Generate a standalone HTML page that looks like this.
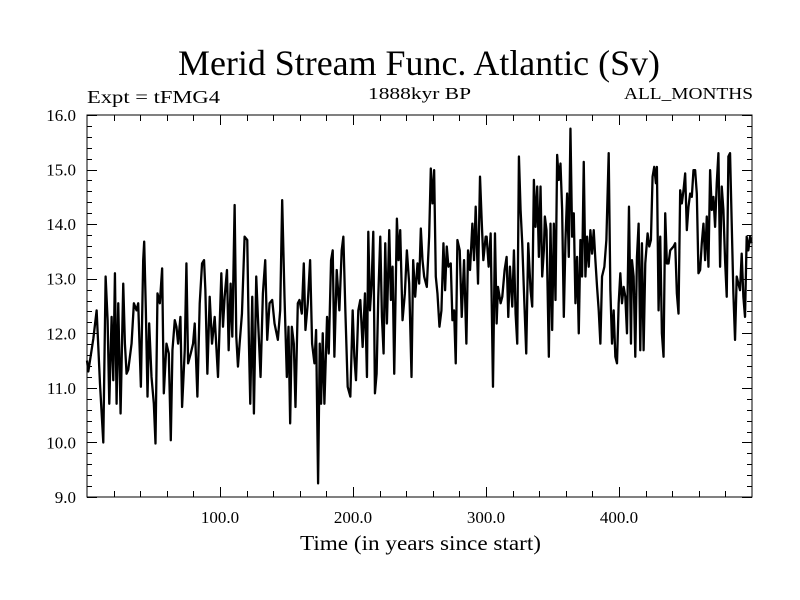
<!DOCTYPE html>
<html><head><meta charset="utf-8"><style>
html,body{margin:0;padding:0;background:#fff;}
svg{display:block;}
text{font-family:"Liberation Serif",serif;fill:#000;}
</style></head><body>
<svg id="chart" width="800" height="600" viewBox="0 0 800 600">
<text x="178" y="75" font-size="36" textLength="482" lengthAdjust="spacingAndGlyphs">Merid Stream Func. Atlantic (Sv)</text>
<text x="87" y="103" font-size="18" textLength="133" lengthAdjust="spacingAndGlyphs">Expt = tFMG4</text>
<text x="368" y="99" font-size="17" textLength="103" lengthAdjust="spacingAndGlyphs">1888kyr BP</text>
<text x="624" y="99" font-size="17" textLength="129" lengthAdjust="spacingAndGlyphs">ALL_MONTHS</text>
<text x="300" y="550" font-size="21" textLength="241" lengthAdjust="spacingAndGlyphs">Time (in years since start)</text>
<g id="axes"></g>
<path id="series" fill="none" stroke="#000" stroke-width="2.3" stroke-linejoin="round"></path>
<rect x="87" y="115" width="665" height="382" fill="none" stroke="#000" stroke-width="1"></rect>
</svg>
<script>
const years = [0,1,4.75,7.25,9.75,12.25,14,15.5,16.75,18.5,19.75,21,22.25,23.5,25.25,27.25,28.5,29.75,31,33.5,35.25,37.25,38.5,40.5,42.25,43,44.25,45.5,46.75,48.5,50.25,51.5,53,54.75,56.5,57.75,59.75,61.5,63,64.25,66,67.25,68.5,70.25,71.5,73.5,74.75,76,78,79.75,81,83,84.75,86.5,88,89,90.5,92.25,94,96,98.5,
101,102.25,103.5,105.25,106.5,108,109.25,111,112.25,113.5,114.75,116.5,118.5,120.5,121.75,122.75,124.25,125.5,127.25,128.5,130.5,132.25,134,135.5,137.25,139.25,141,143.5,145.25,146.75,148.5,150.25,151.5,152.75,154,155.5,156.75,158.5,159.75,161.5,163,164.25,166,167.75,169.25,171,172.25,173.75,175,176,177.25,178.5,180.5,181.75,183.5,184.75,186,187.75,189.75,191.5,192.75,194.25,196,198,199.75,
201,202.25,204,205.5,207.25,209,210.5,211.5,212.75,214,215.25,216.5,217.75,219,220.5,221.75,223,224.25,225.5,227.25,228.5,229.75,231,233,234.25,235.5,237.25,239,240.5,242.25,244,245.25,246.75,248.5,249.75,251,252.25,253.5,255.5,257.25,258.5,259.75,261,262.25,263.5,265,266.5,268,269.25,270.5,271.75,273.5,274.75,276,277.25,278.5,280.25,281.75,283.5,285.25,286.5,288,289.75,291,292.25,294,295.5,296.75,298,299.75,
300.5,302,303.5,305.25,306.75,308,309,311,312.25,314,315.5,316.75,318,319.75,321,322.25,323.5,324.75,326,327.25,328.5,330.25,331.75,333.5,334.75,336,337.25,338.5,339.75,341,342.25,343.5,344.25,345.5,347.25,348.5,349.75,351,352.25,353.5,354.75,356,357.25,358.5,359.75,361,362.25,363.5,364.75,366,367.25,368.5,369.75,371,372.25,373.5,374.75,376,377.25,378.5,379.75,381,382.25,383.5,384.75,386,387.25,389,390.5,392.25,393.5,394.75,396,397.25,398.5,399.75,
401,402.25,403.5,404.75,406,407.5,409,409.75,411,412.25,413.5,414.75,416,417.25,418.5,419.75,421.5,422.75,424,425.25,426.5,427.75,428.5,429.75,431,432.25,433.5,434.75,436,437.25,438.5,441,442.25,443.5,444.75,446,447.25,448.5,449.75,451,452.25,453.5,454.75,456,457.25,458.5,459.75,461,462.25,463.5,464.75,466,467.25,468.5,469.75,471,472.25,473.5,474.75,476,477.25,478.5,479.75,481,482.25,483.5,484.75,486,487.25,488.5,489.75,491,492.25,493.5,494.75,496,497.25,498.5,499.75];
const streamFunc = [11.5,11.3,11.9,12.42,11.08,10.0,13.04,12.24,10.71,12.3,11.14,13.1,10.71,12.55,10.53,12.91,11.81,11.26,11.33,11.81,12.55,12.42,12.55,11.02,13.34,13.68,12.42,10.84,12.18,11.2,10.71,9.98,12.73,12.55,13.19,10.9,11.81,11.63,10.04,11.69,12.24,12.12,11.81,12.3,10.65,11.69,13.28,11.45,11.63,11.81,12.18,10.84,12.55,13.28,13.34,12.79,11.26,12.67,11.81,12.3,11.2,
13.1,12.12,12.67,13.16,11.69,12.91,11.94,14.35,11.94,11.39,11.81,12.36,13.77,13.71,11.81,10.71,12.67,10.53,13.04,12.3,11.2,12.73,13.34,11.88,12.55,12.61,12.18,11.88,12.42,14.44,12.67,11.2,12.12,10.35,12.12,11.81,10.65,12.55,12.61,12.36,13.28,12.06,12.55,13.34,11.81,11.45,12.06,9.25,11.81,10.71,12.0,10.71,12.3,11.63,13.34,13.52,11.57,13.16,12.42,13.52,13.77,12.42,11.02,10.84,12.42,
11.57,11.14,12.42,12.61,11.75,12.73,11.2,13.86,12.42,12.91,13.86,10.9,11.26,12.67,13.77,12.3,11.63,13.65,12.18,13.89,12.61,13.22,11.26,14.1,13.34,13.89,12.24,12.73,13.52,12.91,11.2,13.34,12.67,13.28,12.91,13.92,13.34,13.04,12.85,13.77,15.02,14.38,14.99,13.04,12.73,12.12,12.42,13.65,12.79,13.59,13.22,13.28,12.24,12.42,11.45,13.71,13.52,12.3,13.34,11.81,13.52,13.16,14.01,13.34,14.32,12.91,14.87,14.07,13.34,13.77,
13.77,13.22,13.83,11.02,13.83,12.18,12.85,12.55,12.67,13.16,13.4,12.3,13.22,12.49,13.52,12.36,11.81,15.24,14.26,13.65,12.79,11.63,13.65,12.79,12.49,14.81,13.95,14.69,13.4,14.69,13.04,13.52,14.14,13.89,11.57,14.01,12.06,14.01,12.61,15.27,14.81,15.11,14.26,12.3,13.71,14.56,13.4,15.75,13.77,14.2,12.55,13.4,12.0,13.71,13.04,15.14,13.04,13.77,13.22,13.89,13.46,13.89,13.34,12.85,12.42,11.81,13.04,13.22,13.71,15.3,12.79,11.81,12.42,11.57,11.45,12.55,
13.1,12.55,12.85,12.67,12.0,14.32,11.81,13.34,13.04,11.57,13.4,14.01,11.69,13.65,11.69,13.28,13.83,13.59,13.71,14.87,15.05,14.75,15.05,12.42,13.77,12.0,11.57,14.2,13.28,13.28,13.52,13.59,13.65,12.73,12.36,14.62,14.38,14.62,14.93,13.89,14.32,14.56,14.5,14.99,14.99,14.56,13.1,13.16,13.65,14.01,13.34,14.14,13.22,14.99,14.26,14.5,13.95,14.75,15.3,13.22,14.69,14.26,13.34,12.67,15.24,15.3,14.01,12.73,11.88,13.04,12.91,12.79,13.46,12.67,12.3,13.77,13.52,13.77,13.65];
const yTickValues = [9,10,11,12,13,14,15,16];
const yTickLabels = ["9.0","10.0","11.0","12.0","13.0","14.0","15.0","16.0"];
const xTickValues = [100,200,300,400];
const xTickLabels = ["100.0","200.0","300.0","400.0"];

const X0=87, X1=752, Y0=497, Y1=115, XMIN=0, XMAX=500, YMIN=9, YMAX=16;
function xs(v){return X0+(v-XMIN)/(XMAX-XMIN)*(X1-X0);}
function ys(v){return Y0-(v-YMIN)/(YMAX-YMIN)*(Y0-Y1);}
const NS='http://www.w3.org/2000/svg';
const axes=document.getElementById('axes');
function line(x1,y1,x2,y2,name){
  const l=document.createElementNS(NS,'line');
  l.setAttribute('x1',x1);l.setAttribute('y1',y1);l.setAttribute('x2',x2);l.setAttribute('y2',y2);
  l.setAttribute('stroke','#000');l.setAttribute('stroke-width','1');
  
  
  axes.appendChild(l);
}
for(let i=0;i<=35;i++){
  const v=YMIN+i*0.2, y=Math.round(ys(v))+0.5, major=(i%5===0), len=major?10:5;
  line(X0,y,X0+len,y,'y-tick');
  line(X1-len,y,X1,y,'y-tick-right');
}
for(let v=20;v<XMAX;v+=20){
  const x=Math.round(xs(v))+0.5, len=(v%100===0)?10:6;
  line(x,Y0,x,Y0-len,'x-tick');
  line(x,Y1,x,Y1+len,'x-tick-top');
}
yTickValues.forEach((v,i)=>{
  const t=document.createElementNS(NS,'text');
  t.setAttribute('x',76);t.setAttribute('y',ys(v)+6);t.setAttribute('font-size','17');t.setAttribute('text-anchor','end');
  t.textContent=yTickLabels[i];
  
  
  axes.appendChild(t);
});
xTickValues.forEach((v,i)=>{
  const t=document.createElementNS(NS,'text');
  t.setAttribute('x',xs(v));t.setAttribute('y',523);t.setAttribute('font-size','17');t.setAttribute('text-anchor','middle');
  t.textContent=xTickLabels[i];
  
  
  axes.appendChild(t);
});
let d='';
years.forEach((yr,i)=>{d+=(i?'L':'M')+xs(yr).toFixed(2)+' '+ys(streamFunc[i]).toFixed(2);});
document.getElementById('series').setAttribute('d',d);
</script>
</body></html>
